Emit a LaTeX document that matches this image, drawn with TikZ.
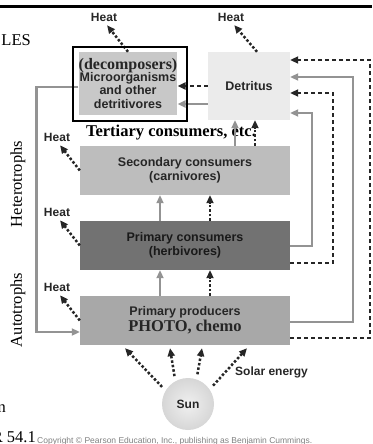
\documentclass[tikz,border=0pt]{standalone}
\usepackage{fontspec}
\setmainfont{Liberation Serif}
\newfontfamily\arial{Liberation Sans}
\usetikzlibrary{arrows.meta}
\definecolor{decofill}{HTML}{C8C8C8}
\definecolor{detrfill}{HTML}{EBEBEB}
\definecolor{secfill}{HTML}{BDBDBD}
\definecolor{primfill}{HTML}{727272}
\definecolor{prodfill}{HTML}{A8A8A8}
\definecolor{flowgray}{HTML}{939393}
\definecolor{inkgray}{HTML}{262626}
\begin{document}
\begin{tikzpicture}[x=1pt, y=-1pt, >={Triangle[length=8pt,width=7pt]},
  level/.style={rectangle, inner sep=0pt, minimum width=210pt, minimum height=49pt, align=center, text=inkgray, font=\arial\bfseries\fontsize{12.5}{13.5}\selectfont},
  flow/.style={->, flowgray, line width=2.5pt},
  chem/.style={->, inkgray, line width=2.5pt, dash pattern=on 4pt off 3pt},
  dots/.style={->, inkgray, line width=2.5pt, dash pattern=on 2.5pt off 2pt},
  tag/.style={inner sep=0pt, text=inkgray, font=\arial\bfseries\fontsize{12}{13}\selectfont},
  big/.style={inner sep=0pt, font=\fontsize{16.5}{18}\selectfont}]
	  \useasboundingbox (0,0) rectangle (372,444);
	  %\fill[white] (0,0) rectangle (372,444);
	  \draw[black, line width=3pt] (0,6.5) -- (372,6.5);
	  \node[big, anchor=east] (les) at (31,40) {LES};
	  \node[big, rotate=90] (hetero) at (18,184) {Heterotrophs};
	  \node[big, rotate=90] (auto) at (18,310) {Autotrophs};
	  \node[big, anchor=base east] (cutn) at (6,412) {n};
	  \node[big, anchor=base east] (fig) at (36,442) {R 54.1};
	  \node[inner sep=0pt, anchor=base west, text=gray, font=\arial\fontsize{8.5}{9}\selectfont] (copy) at (37,443) {Copyright \textcopyright{} Pearson Education, Inc., publishing as Benjamin Cummings.};

	  \node[level, fill=decofill, minimum width=96pt, minimum height=63pt] (decomp) at (128,83.5)
	    {{\rmfamily\fontsize{16}{17}\selectfont (decomposers)}\\[-1.5pt]Microorganisms\\and other\\detritivores};
	  \node[level, fill=detrfill, minimum width=82pt, minimum height=68pt] (detr) at (249,86) {Detritus};
	  \node[level, fill=secfill] (sec) at (185,170.5) {Secondary consumers\\(carnivores)};
	  \node[level, fill=primfill, text=black!90] (prim) at (185,245.5) {Primary consumers\\(herbivores)};
	  \node[level, fill=prodfill] (prod) at (185,320.5) {Primary producers\\[1pt]{\rmfamily\fontsize{16.5}{17}\selectfont PHOTO, chemo}};
	  \node[tag, circle, minimum size=52pt, inner color=gray!12, outer color=gray!32] (sun) at (188,404) {Sun};
	  \node[big, font=\bfseries\fontsize{16.5}{18}\selectfont] (tert) at (171,133) {Tertiary consumers, etc.};

	  \node[tag] (heatdec) at (104,17) {Heat};
	  \node[tag] (heatdetr) at (231,17) {Heat};
	  \node[tag] (heatsec) at (57,137) {Heat};
	  \node[tag] (heatprim) at (57,212) {Heat};
	  \node[tag] (heatprod) at (57,287) {Heat};
	  \node[tag, anchor=west] (solar) at (235,372) {Solar energy};

	  \draw[dots, shorten >=5pt] (decomp.north) -- (heatdec.south);
	  \draw[dots, shorten >=5pt] ([xshift=8pt]detr.north) -- (heatdetr.south);
	  \draw[dots, shorten >=5pt] (sec.west) -- (heatsec.south);
	  \draw[dots, shorten >=5pt] (prim.west) -- (heatprim.south);
	  \draw[dots, shorten >=5pt] (prod.west) -- (heatprod.south);

	  \draw[chem] (detr.west) -- (detr.west -| decomp.east);
	  \draw[flow] ([yshift=-18pt]detr.west) -- ([yshift=-18pt]detr.west -| decomp.east);

	  \draw[flow] ([xshift=-25pt]prod.north) -- ([xshift=-25pt]prim.south);
	  \draw[dots] ([xshift=25pt]prod.north) -- ([xshift=25pt]prim.south);
	  \draw[flow] ([xshift=-25pt]prim.north) -- ([xshift=-25pt]sec.south);
	  \draw[dots] ([xshift=25pt]prim.north) -- ([xshift=25pt]sec.south);
	  \draw[flow] ([xshift=50pt]sec.north) -- ([xshift=50pt]sec.north |- detr.south);
	  \draw[dots] ([xshift=70pt]sec.north) -- ([xshift=70pt]sec.north |- detr.south);

	  \draw[flow] ([yshift=-0.5pt]prim.east) -- ++(22,0) |- ([yshift=-27pt]detr.east);
	  \draw[chem] ([yshift=-17.5pt]prim.east) -- ++(43,0) |- ([yshift=-7pt]detr.east);
	  \draw[flow] ([yshift=-1.5pt]prod.east) -- ++(63,0) |- ([yshift=9pt]detr.east);
	  \draw[chem] ([yshift=-17.5pt]prod.east) -- ++(80,0) |- ([yshift=26pt]detr.east);
	  \draw[flow] ([yshift=-3.5pt]decomp.west) -- ++(-42,0) |- ([yshift=-11.5pt]prod.west);

	  \foreach \a/\dx in {149/-60, 119/-15, 71/17, 34/62}
	    \draw[dots, shorten <=5pt] (sun.\a) -- ([xshift=\dx pt, yshift=-3pt]prod.south);

	  \node[draw=black, line width=2.2pt, inner sep=0pt, minimum width=114pt, minimum height=74pt] (frame) at (130,84) {};
	\end{tikzpicture}
\end{document}
